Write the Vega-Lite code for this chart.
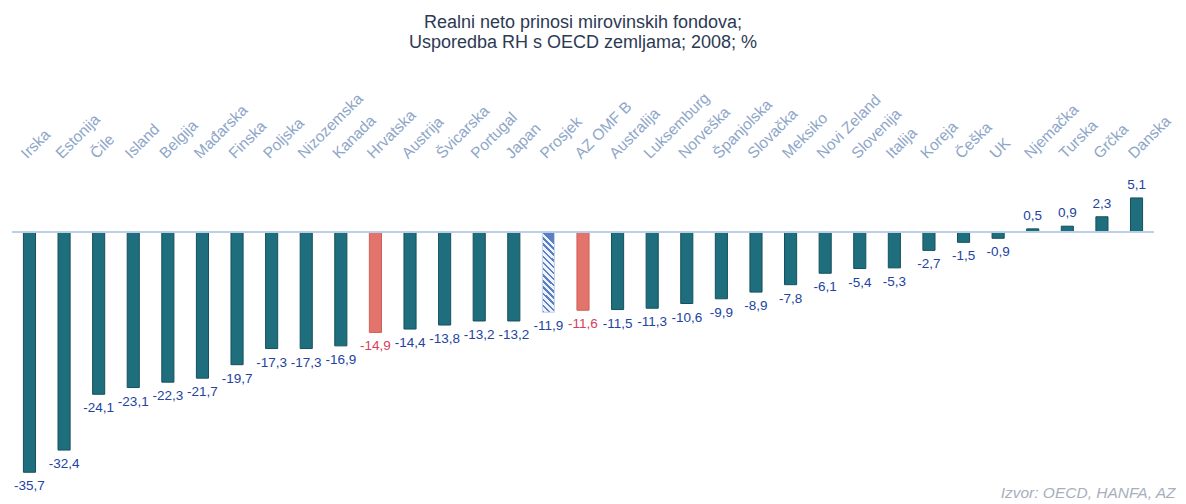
{
  "$schema": "https://vega.github.io/schema/vega-lite/v6.json",
  "width": 1142,
  "height": 316,
  "autosize": {"type": "none"},
  "padding": {"left": 12, "top": 165, "right": 32, "bottom": 23},
  "background": "white",
  "title": {
    "text": ["Realni neto prinosi mirovinskih fondova;", "Usporedba RH s OECD  zemljama; 2008; %"],
    "anchor": "middle",
    "font": "Liberation Sans",
    "fontSize": 18,
    "fontWeight": "normal",
    "color": "#2c3a54",
    "lineHeight": 20,
    "offset": 38
  },
  "config": {
    "view": {"stroke": null},
    "locale": {"number": {"decimal": ",", "thousands": ".", "grouping": [3], "currency": ["", ""], "minus": "-"}}
  },
  "data": {
    "values": [
      {"zemlja": "Irska", "prinos": -35.7, "tip": "zemlja"},
      {"zemlja": "Estonija", "prinos": -32.4, "tip": "zemlja"},
      {"zemlja": "Čile", "prinos": -24.1, "tip": "zemlja"},
      {"zemlja": "Island", "prinos": -23.1, "tip": "zemlja"},
      {"zemlja": "Belgija", "prinos": -22.3, "tip": "zemlja"},
      {"zemlja": "Mađarska", "prinos": -21.7, "tip": "zemlja"},
      {"zemlja": "Finska", "prinos": -19.7, "tip": "zemlja"},
      {"zemlja": "Poljska", "prinos": -17.3, "tip": "zemlja"},
      {"zemlja": "Nizozemska", "prinos": -17.3, "tip": "zemlja"},
      {"zemlja": "Kanada", "prinos": -16.9, "tip": "zemlja"},
      {"zemlja": "Hrvatska", "prinos": -14.9, "tip": "hr"},
      {"zemlja": "Austrija", "prinos": -14.4, "tip": "zemlja"},
      {"zemlja": "Švicarska", "prinos": -13.8, "tip": "zemlja"},
      {"zemlja": "Portugal", "prinos": -13.2, "tip": "zemlja"},
      {"zemlja": "Japan", "prinos": -13.2, "tip": "zemlja"},
      {"zemlja": "Prosjek", "prinos": -11.9, "tip": "prosjek"},
      {"zemlja": "AZ OMF B", "prinos": -11.6, "tip": "hr"},
      {"zemlja": "Australija", "prinos": -11.5, "tip": "zemlja"},
      {"zemlja": "Luksemburg", "prinos": -11.3, "tip": "zemlja"},
      {"zemlja": "Norveška", "prinos": -10.6, "tip": "zemlja"},
      {"zemlja": "Španjolska", "prinos": -9.9, "tip": "zemlja"},
      {"zemlja": "Slovačka", "prinos": -8.9, "tip": "zemlja"},
      {"zemlja": "Meksiko", "prinos": -7.8, "tip": "zemlja"},
      {"zemlja": "Novi Zeland", "prinos": -6.1, "tip": "zemlja"},
      {"zemlja": "Slovenija", "prinos": -5.4, "tip": "zemlja"},
      {"zemlja": "Italija", "prinos": -5.3, "tip": "zemlja"},
      {"zemlja": "Koreja", "prinos": -2.7, "tip": "zemlja"},
      {"zemlja": "Češka", "prinos": -1.5, "tip": "zemlja"},
      {"zemlja": "UK", "prinos": -0.9, "tip": "zemlja"},
      {"zemlja": "Njemačka", "prinos": 0.5, "tip": "zemlja"},
      {"zemlja": "Turska", "prinos": 0.9, "tip": "zemlja"},
      {"zemlja": "Grčka", "prinos": 2.3, "tip": "zemlja"},
      {"zemlja": "Danska", "prinos": 5.1, "tip": "zemlja"}
    ]
  },
  "encoding": {
    "x": {
      "field": "zemlja",
      "type": "nominal",
      "sort": null,
      "scale": {"paddingInner": 0.65, "paddingOuter": 0.33},
      "axis": null
    },
    "y": {
      "field": "prinos",
      "type": "quantitative",
      "scale": {"domain": [-37, 10], "nice": false, "zero": false},
      "axis": null
    }
  },
  "layer": [
    {
      "mark": {"type": "bar", "strokeWidth": 1},
      "encoding": {
        "x": {
          "field": "zemlja",
          "type": "nominal",
          "sort": null,
          "axis": {
            "orient": "top",
            "title": null,
            "domain": false,
            "ticks": false,
            "labelAngle": -45,
            "labelPadding": 4,
            "labelFont": "Liberation Sans",
            "labelFontSize": 15.5,
            "labelColor": "#8ea6c8",
            "labelOverlap": false
          }
        },
        "fill": {
          "field": "tip",
          "type": "nominal",
          "scale": {"domain": ["zemlja", "hr", "prosjek"], "range": ["#1f6e7e", "#e2746c", "transparent"]},
          "legend": null
        },
        "stroke": {
          "field": "tip",
          "type": "nominal",
          "scale": {"domain": ["zemlja", "hr", "prosjek"], "range": ["#15505c", "#cf5f58", "transparent"]},
          "legend": null
        }
      }
    },
    {
      "transform": [{"filter": "datum.tip === 'prosjek'"}],
      "mark": {
        "type": "bar",
        "stroke": "#c3d3ea",
        "strokeWidth": 1,
        "fill": {
          "gradient": "linear",
          "x1": 0, "y1": 1, "x2": 0.15, "y2": 0,
          "stops": [
            {"offset": 0, "color": "#5a7fc2"}, {"offset": 0.03, "color": "#5a7fc2"},
            {"offset": 0.03, "color": "#eef3fa"}, {"offset": 0.075, "color": "#eef3fa"},
            {"offset": 0.075, "color": "#5a7fc2"}, {"offset": 0.105, "color": "#5a7fc2"},
            {"offset": 0.105, "color": "#eef3fa"}, {"offset": 0.15, "color": "#eef3fa"},
            {"offset": 0.15, "color": "#5a7fc2"}, {"offset": 0.18, "color": "#5a7fc2"},
            {"offset": 0.18, "color": "#eef3fa"}, {"offset": 0.225, "color": "#eef3fa"},
            {"offset": 0.225, "color": "#5a7fc2"}, {"offset": 0.255, "color": "#5a7fc2"},
            {"offset": 0.255, "color": "#eef3fa"}, {"offset": 0.3, "color": "#eef3fa"},
            {"offset": 0.3, "color": "#5a7fc2"}, {"offset": 0.33, "color": "#5a7fc2"},
            {"offset": 0.33, "color": "#eef3fa"}, {"offset": 0.375, "color": "#eef3fa"},
            {"offset": 0.375, "color": "#5a7fc2"}, {"offset": 0.405, "color": "#5a7fc2"},
            {"offset": 0.405, "color": "#eef3fa"}, {"offset": 0.45, "color": "#eef3fa"},
            {"offset": 0.45, "color": "#5a7fc2"}, {"offset": 0.48, "color": "#5a7fc2"},
            {"offset": 0.48, "color": "#eef3fa"}, {"offset": 0.525, "color": "#eef3fa"},
            {"offset": 0.525, "color": "#5a7fc2"}, {"offset": 0.555, "color": "#5a7fc2"},
            {"offset": 0.555, "color": "#eef3fa"}, {"offset": 0.6, "color": "#eef3fa"},
            {"offset": 0.6, "color": "#5a7fc2"}, {"offset": 0.63, "color": "#5a7fc2"},
            {"offset": 0.63, "color": "#eef3fa"}, {"offset": 0.675, "color": "#eef3fa"},
            {"offset": 0.675, "color": "#5a7fc2"}, {"offset": 0.705, "color": "#5a7fc2"},
            {"offset": 0.705, "color": "#eef3fa"}, {"offset": 0.75, "color": "#eef3fa"},
            {"offset": 0.75, "color": "#5a7fc2"}, {"offset": 0.78, "color": "#5a7fc2"},
            {"offset": 0.78, "color": "#eef3fa"}, {"offset": 0.825, "color": "#eef3fa"},
            {"offset": 0.825, "color": "#5a7fc2"}, {"offset": 0.855, "color": "#5a7fc2"},
            {"offset": 0.855, "color": "#eef3fa"}, {"offset": 0.9, "color": "#eef3fa"},
            {"offset": 0.9, "color": "#5a7fc2"}, {"offset": 0.93, "color": "#5a7fc2"},
            {"offset": 0.93, "color": "#eef3fa"}, {"offset": 0.975, "color": "#eef3fa"},
            {"offset": 0.975, "color": "#5a7fc2"}, {"offset": 1, "color": "#5a7fc2"}
          ]
        }
      },
      "encoding": {}
    },
    {
      "mark": {"type": "rule", "color": "#bccfe8", "strokeWidth": 1},
      "encoding": {"x": null, "y": {"datum": 0}}
    },
    {
      "transform": [{"filter": "datum.prinos < 0"}],
      "mark": {"type": "text", "baseline": "top", "dy": 7, "font": "Liberation Sans", "fontSize": 13.5},
      "encoding": {
        "text": {"field": "prinos", "type": "quantitative", "format": ".1f"},
        "color": {
          "field": "tip",
          "type": "nominal",
          "scale": {"domain": ["zemlja", "hr", "prosjek"], "range": ["#2343a0", "#d8405a", "#2343a0"]},
          "legend": null
        }
      }
    },
    {
      "transform": [{"filter": "datum.prinos >= 0"}],
      "mark": {"type": "text", "baseline": "bottom", "dy": -6, "font": "Liberation Sans", "fontSize": 13.5},
      "encoding": {
        "x": {
          "field": "zemlja",
          "type": "nominal",
          "sort": null,
          "axis": {
            "orient": "bottom",
            "labels": false,
            "ticks": false,
            "domain": false,
            "title": "Izvor: OECD, HANFA, AZ",
            "titleAnchor": "end",
            "titleFont": "Liberation Sans",
            "titleFontSize": 15.5,
            "titleFontStyle": "italic",
            "titleFontWeight": "normal",
            "titleColor": "#a7afbd",
            "titlePadding": 4,
            "titleX": 1163
          }
        },
        "text": {"field": "prinos", "type": "quantitative", "format": ".1f"},
        "color": {
          "field": "tip",
          "type": "nominal",
          "scale": {"domain": ["zemlja", "hr", "prosjek"], "range": ["#2343a0", "#d8405a", "#2343a0"]},
          "legend": null
        }
      }
    }
  ]
}
